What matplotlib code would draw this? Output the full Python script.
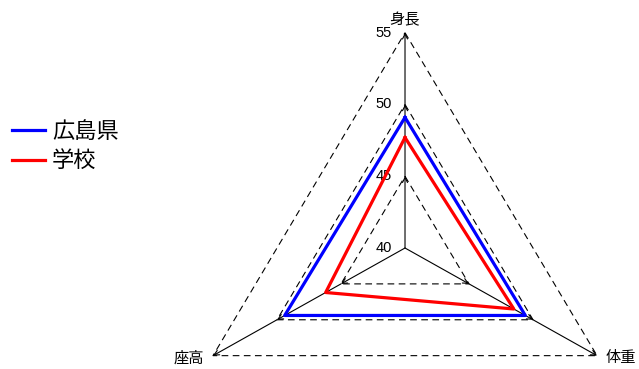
import numpy as np
import matplotlib.pyplot as plt

plt.rcParams['font.family'] = ['Noto Sans CJK JP', 'DejaVu Sans']

categories = ['身長', '体重', '座高']
hiroshima = [49.1, 49.4, 49.4]
school = [47.7, 48.5, 46.2]
levels = [40, 45, 50, 55]
vmin = 40

angles = np.deg2rad([90, -30, 210])

def xy(vals):
    r = np.array(vals) - vmin
    return r * np.cos(angles), r * np.sin(angles)

fig = plt.figure(figsize=(6.39, 3.69), dpi=100)
ax = fig.add_axes([0, 0, 1, 1])
ax.set_xlim(-27.40, 15.83)
ax.set_ylim(-8.43, 17.28)
ax.axis('off')

# grid triangles
for lv in levels[1:]:
    x, y = xy([lv] * 3)
    ax.plot(np.append(x, x[0]), np.append(y, y[0]), color='black', lw=0.8,
            ls=(0, (6, 4)), zorder=1)

# axes with arrows at each level
for i, a in enumerate(angles):
    for lo, hi in zip(levels[:-1], levels[1:]):
        r0, r1 = lo - vmin, hi - vmin
        ax.annotate('', xy=(r1 * np.cos(a), r1 * np.sin(a)),
                    xytext=(r0 * np.cos(a), r0 * np.sin(a)),
                    arrowprops=dict(arrowstyle='->', color='black', lw=0.8,
                                    shrinkA=0, shrinkB=0, mutation_scale=9),
                    zorder=2)

# tick labels
for lv in levels:
    ax.text(-0.9, lv - vmin, str(lv), ha='right', va='center', fontsize=10.5,
            family=['Liberation Sans', 'DejaVu Sans'])

# category labels
ax.text(0, 15.9, categories[0], ha='center', va='center', fontsize=11)
x, y = xy([55] * 3)
ax.text(x[1] + 0.6, y[1] - 0.1, categories[1], ha='left', va='center', fontsize=11)
ax.text(x[2] - 0.6, y[2] - 0.2, categories[2], ha='right', va='center', fontsize=11)

for vals, c, lab in [(hiroshima, 'blue', '広島県'), (school, 'red', '学校')]:
    x, y = xy(vals)
    ax.plot(np.append(x, x[0]), np.append(y, y[0]), color=c, lw=2.3, label=lab,
            zorder=3)

ax.legend(loc='center left', bbox_to_anchor=(12 / 639, 1 - 146 / 369),
          frameon=False, borderpad=0, borderaxespad=0,
          fontsize=16, handlelength=1.5, handletextpad=0.3, labelspacing=0.3)

fig.savefig('out.png', dpi=100)
